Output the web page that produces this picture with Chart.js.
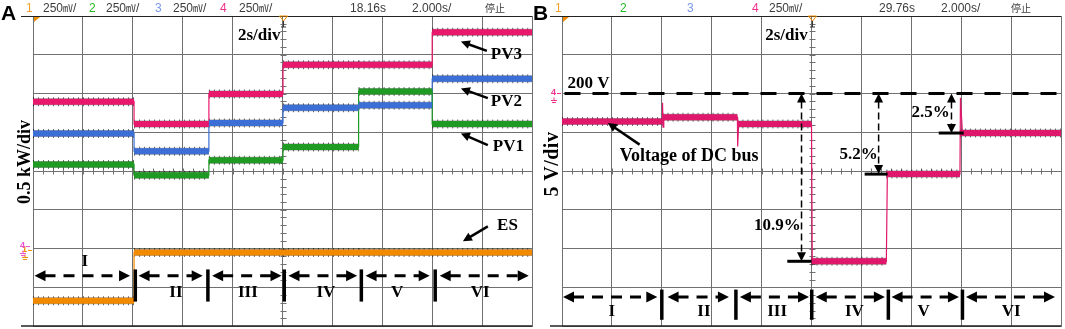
<!DOCTYPE html>
<html lang="en">
<head>
<meta charset="utf-8">
<title>PV / ES power and DC bus voltage</title>
<script src="https://cdn.jsdelivr.net/npm/chart.js@4.4.1/dist/chart.umd.min.js"></script>
<style>
  body { margin: 0; background: #fff; }
  #wrap { position: relative; width: 1065px; height: 329px; overflow: hidden; }
  canvas { position: absolute; top: 0; }
  .hd { position: absolute; top: 1px; font: 12px/14px "Liberation Sans", Arial, sans-serif; color: #3c3c3c; white-space: nowrap; }
  .cjk { font-family: "Noto Sans CJK JP", sans-serif; font-size: 10px; }
  .tag { position: absolute; top: 2px; font: bold 21px/21px "Liberation Sans", Arial, sans-serif; color: #000; }
  .ylab { position: absolute; width: 140px; height: 20px; text-align: center; font: bold 18px/20px "Liberation Serif", "Times New Roman", serif; transform: rotate(-90deg); white-space: nowrap; }
</style>
</head>
<body>
<div id="wrap">
  <canvas id="scopeA" width="540" height="329" style="left:0;width:540px;height:329px"></canvas>
  <canvas id="scopeB" width="525" height="329" style="left:540px;width:525px;height:329px"></canvas>

  <div class="tag" style="left:1px">A</div>
  <span class="hd" style="left:26px;color:#f0a030">1</span>
  <span class="hd" style="left:43px">250<span class="cjk">㎷</span>/</span>
  <span class="hd" style="left:89px;color:#22bb22">2</span>
  <span class="hd" style="left:106px">250<span class="cjk">㎷</span>/</span>
  <span class="hd" style="left:155px;color:#7897ee">3</span>
  <span class="hd" style="left:173px">250<span class="cjk">㎷</span>/</span>
  <span class="hd" style="left:220px;color:#f0308c">4</span>
  <span class="hd" style="left:239px">250<span class="cjk">㎷</span>/</span>
  <span class="hd" style="left:350px">18.16s</span>
  <span class="hd" style="left:412px">2.000s/</span>
  <span class="hd cjk" style="left:485px">停止</span>

  <div class="tag" style="left:533px">B</div>
  <span class="hd" style="left:555px;color:#f0a030">1</span>
  <span class="hd" style="left:620px;color:#22bb22">2</span>
  <span class="hd" style="left:687px;color:#7897ee">3</span>
  <span class="hd" style="left:752px;color:#f0308c">4</span>
  <span class="hd" style="left:769px">250<span class="cjk">㎷</span>/</span>
  <span class="hd" style="left:879px">29.76s</span>
  <span class="hd" style="left:941px">2.000s/</span>
  <span class="hd cjk" style="left:1011px">停止</span>

  <div class="ylab" style="left:-46px;top:152px">0.5 kW/div</div>
  <div class="ylab" style="left:481px;top:154px;font-size:20px;letter-spacing:0.5px">5 V/div</div>
</div>

<script>
// screen is 10 x 8 divisions, x in seconds (2 s/div), y in divisions from centre
const gridTimes = [0, 2, 4, 6, 8, 10, 12, 14, 16, 18, 20];
const gridDivs = [-4, -3, -2, -1, 0, 1, 2, 3, 4];

// panel A: stage boundaries and levels of each trace (0.5 kW/div)
const stageTimesA = [0, 4.05, 7.05, 10.02, 13.05, 16.0, 20];
const pv3Power = [1.79, 1.21, 1.99, 2.74, 2.74, 3.58];
const pv2Power = [0.97, 0.51, 1.24, 1.63, 1.70, 2.38];
const pv1Power = [0.17, -0.11, 0.28, 0.62, 2.05, 1.21];
const esPower  = [-3.35, -2.10, -2.10, -2.10, -2.10, -2.10];

// panel B: DC bus voltage (5 V/div), 200 V reference at +2 div
const stageTimesB = [0, 4.03, 7.03, 10.0, 13.0, 15.95, 20];
const busVoltage = [1.28, 1.39, 1.21, -2.33, -0.08, 0.98];
const busTraceT = [0, 4.03, 4.03, 4.05, 4.08, 7.03, 7.03, 7.05, 7.08, 10.0, 10.03, 13.0, 13.04, 15.95, 15.97, 16.05, 20];
const busTraceV = [1.28, 1.28, 1.76, 1.13, 1.39, 1.39, 1.36, 0.63, 1.21, 1.21, -2.33, -2.33, -0.08, -0.08, 1.89, 0.98, 0.98];
const busRef = 2.0;

const stageNames = ['I', 'II', 'III', 'IV', 'V', 'VI'];

const colPV3 = '#e8196c', colPV2 = '#3b6fd6', colPV1 = '#1f9b24', colES = '#f28a00', colBus = '#e0186c';
const gridCol = '#707070';
const serif = '"Liberation Serif", "Times New Roman", serif';

// horizontal pieces of a stepped trace, broken at each stage change
function segments(times, levels) {
  const out = [];
  for (let i = 0; i < levels.length; i++) {
    out.push({ x: times[i], y: levels[i] }, { x: times[i + 1], y: levels[i] }, { x: times[i + 1], y: null });
  }
  return out;
}
function stepped(times, levels) {
  return times.map((t, i) => ({ x: t, y: levels[Math.min(i, levels.length - 1)] }));
}

function traceSets(times, levels, color, width) {
  return [
    { data: segments(times, levels), borderColor: 'rgba(0,0,0,0.55)', borderWidth: width + 3, borderDash: [1, 4], order: 4 },
    { data: segments(times, levels), borderColor: 'rgba(0,0,0,0.35)', borderWidth: width + 1, order: 3 },
    { data: segments(times, levels), borderColor: color, borderWidth: width, order: 1 },
    { data: stepped(times, levels), borderColor: color, borderWidth: 1.2, stepped: 'before', order: 2 }
  ];
}

// drawing helpers
function head(ctx, x, y, a, hl, hw) {
  const c = Math.cos(a), s = Math.sin(a);
  ctx.beginPath();
  ctx.moveTo(x, y);
  ctx.lineTo(x - hl * c + hw * s, y - hl * s - hw * c);
  ctx.lineTo(x - hl * c - hw * s, y - hl * s + hw * c);
  ctx.closePath();
  ctx.fill();
}
function arrow(ctx, x1, y1, x2, y2, o) {
  const a = Math.atan2(y2 - y1, x2 - x1);
  const hl = o.head || 9, hw = o.headW || 4.5;
  ctx.save();
  ctx.strokeStyle = ctx.fillStyle = '#000';
  ctx.lineWidth = o.width || 2;
  ctx.setLineDash(o.dash || []);
  const sx = o.both ? x1 + Math.cos(a) * (hl - 1) : x1, sy = o.both ? y1 + Math.sin(a) * (hl - 1) : y1;
  ctx.beginPath();
  ctx.moveTo(sx, sy);
  ctx.lineTo(x2 - Math.cos(a) * (hl - 1), y2 - Math.sin(a) * (hl - 1));
  ctx.stroke();
  ctx.setLineDash([]);
  head(ctx, x2, y2, a, hl, hw);
  if (o.both) head(ctx, x1, y1, a + Math.PI, hl, hw);
  ctx.restore();
}
function label(ctx, text, x, y, align, size) {
  ctx.save();
  ctx.font = 'bold ' + (size || 17) + 'px ' + serif;
  ctx.fillStyle = '#000';
  ctx.textAlign = align || 'left';
  ctx.textBaseline = 'middle';
  ctx.fillText(text, x, y);
  ctx.restore();
}
function line(ctx, x1, y1, x2, y2, w) {
  ctx.save();
  ctx.strokeStyle = '#000';
  ctx.lineWidth = w;
  ctx.beginPath(); ctx.moveTo(x1, y1); ctx.lineTo(x2, y2); ctx.stroke();
  ctx.restore();
}

function drawStages(ctx, X, Y, st) {
  st.spans.forEach(s => arrow(ctx, X(s[0]), Y(st.v), X(s[1]), Y(st.v), { both: true, width: 3, dash: [11, 8], head: 11, headW: 5.5 }));
  st.bars.forEach(t => line(ctx, X(t), Y(st.barTop), X(t), Y(st.barBot), 3.5));
  stageNames.forEach((n, i) => label(ctx, n, X(st.labels[i][0]), Y(st.labels[i][1]), 'center'));
}

// scope frame, centre-line ticks and small markers
function decor(drawExtra) {
  return {
    id: 'decor',
    beforeDatasetsDraw(chart) {
      const { ctx, chartArea: a, scales: { x, y } } = chart;
      const cx = Math.round(x.getPixelForValue(10)) + 0.5, cy = Math.round(y.getPixelForValue(0)) + 0.5;
      ctx.save();
      ctx.strokeStyle = gridCol;
      ctx.lineWidth = 1;
      ctx.beginPath();
      for (let k = 0; k <= 50; k++) {
        const px = Math.round(x.getPixelForValue(k * 0.4)) + 0.5;
        ctx.moveTo(px, cy - 3); ctx.lineTo(px, cy + 3);
      }
      for (let k = 0; k <= 40; k++) {
        const py = Math.round(y.getPixelForValue(-4 + k * 0.2)) + 0.5;
        ctx.moveTo(cx - 3, py); ctx.lineTo(cx + 3, py);
      }
      ctx.stroke();
      ctx.strokeStyle = '#222';
      ctx.beginPath(); ctx.moveTo(a.left - 12, a.top + 0.5); ctx.lineTo(a.right, a.top + 0.5); ctx.stroke();
      ctx.lineWidth = 1.5;
      ctx.beginPath(); ctx.moveTo(a.left - 12, a.bottom); ctx.lineTo(a.right, a.bottom); ctx.stroke();
      // trigger point marker
      ctx.fillStyle = '#f08c00';
      ctx.beginPath(); ctx.moveTo(a.left + 1, a.top + 1); ctx.lineTo(a.left + 7, a.top + 1); ctx.lineTo(a.left + 1, a.top + 6); ctx.fill();
      ctx.strokeStyle = '#f08c00';
      ctx.lineWidth = 1;
      ctx.beginPath(); ctx.moveTo(cx - 4, a.top); ctx.lineTo(cx + 4, a.top); ctx.lineTo(cx, a.top + 5); ctx.closePath(); ctx.stroke();
      ctx.strokeStyle = '#333';
      ctx.beginPath(); ctx.moveTo(cx, a.top + 5); ctx.lineTo(cx, a.top + 11); ctx.moveTo(cx - 2.5, a.top + 11); ctx.lineTo(cx + 2.5, a.top + 11); ctx.stroke();
      ctx.restore();
    },
    afterDatasetsDraw(chart) {
      const { ctx, scales: { x, y } } = chart;
      drawExtra(ctx, t => x.getPixelForValue(t), v => y.getPixelForValue(v), chart.chartArea);
    }
  };
}

function groundMark(ctx, x, y, color, digit) {
  ctx.save();
  ctx.font = 'bold 9px "Liberation Sans", Arial, sans-serif';
  ctx.fillStyle = color;
  ctx.textBaseline = 'middle';
  ctx.fillText(digit, x - 10, y - 1);
  ctx.strokeStyle = color;
  ctx.lineWidth = 1;
  ctx.beginPath();
  ctx.moveTo(x - 4, y); ctx.lineTo(x, y);
  ctx.moveTo(x - 7, y + 4); ctx.lineTo(x - 7, y + 7);
  ctx.moveTo(x - 10, y + 7); ctx.lineTo(x - 4, y + 7);
  ctx.moveTo(x - 9, y + 9); ctx.lineTo(x - 5, y + 9);
  ctx.stroke();
  ctx.restore();
}

function drawA(ctx, X, Y, a) {
  groundMark(ctx, a.left - 1, Y(-2.05), '#f08c00', '1');
  groundMark(ctx, a.left - 3, Y(-1.95), '#e94fd0', '4');
  label(ctx, '2s/div', X(9.92), Y(3.49), 'right');
  label(ctx, 'PV3', X(18.35), Y(3.0));
  label(ctx, 'PV2', X(18.35), Y(1.79));
  label(ctx, 'PV1', X(18.43), Y(0.62));
  label(ctx, 'ES', X(18.6), Y(-1.41));
  arrow(ctx, X(18.19), Y(3.10), X(17.15), Y(3.34), { width: 2.5 });
  arrow(ctx, X(18.23), Y(1.88), X(17.15), Y(2.13), { width: 2.5 });
  arrow(ctx, X(18.23), Y(0.67), X(17.15), Y(0.97), { width: 2.5 });
  arrow(ctx, X(18.23), Y(-1.43), X(17.23), Y(-1.81), { width: 2.5 });
  drawStages(ctx, X, Y, {
    v: -2.70,
    spans: [[0.06, 3.89], [4.23, 6.8], [7.18, 9.96], [10.24, 12.99], [13.33, 15.9], [16.3, 19.87]],
    bars: [4.1, 7.01, 10.07, 13.16, 16.12], barTop: -2.54, barBot: -3.37,
    labels: [[2.08, -2.33], [5.73, -3.15], [8.61, -3.15], [11.74, -3.15], [14.59, -3.15], [17.92, -3.15]]
  });
}

function drawB(ctx, X, Y, a) {
  groundMark(ctx, a.left - 1, Y(busRef), '#f0308c', '4');
  // 200 V reference
  ctx.save();
  ctx.strokeStyle = '#000';
  ctx.lineWidth = 3;
  ctx.setLineDash([16, 12]);
  ctx.beginPath(); ctx.moveTo(X(0.1), Y(busRef)); ctx.lineTo(a.right + 3, Y(busRef)); ctx.stroke();
  ctx.restore();
  label(ctx, '200 V', X(0.22), Y(2.25));
  label(ctx, '2s/div', X(9.85), Y(3.49), 'right');
  label(ctx, 'Voltage of DC bus', X(2.31), Y(0.38), 'left', 18);
  arrow(ctx, X(3.11), Y(0.68), X(1.84), Y(1.24), { width: 2.5 });
  // voltage drop markers
  const drops = [[9.6, -2.33, 9.03, 10.0, '10.9%', 9.57, -1.40],
                 [12.69, -0.08, 12.13, 13.05, '5.2%', 12.66, 0.42],
                 [15.61, 0.98, 15.1, 16.1, '2.5%', 15.54, 1.50]];
  drops.forEach(d => {
    arrow(ctx, X(d[0]), Y(busRef), X(d[0]), Y(d[1]), { both: true, width: 1.5, dash: [7, 4], head: 9, headW: 4.5 });
    line(ctx, X(d[2]), Y(d[1]), X(d[3]), Y(d[1]), 3);
    label(ctx, d[4], X(d[5]), Y(d[6]), 'right');
  });
  drawStages(ctx, X, Y, {
    v: -3.25,
    spans: [[0.04, 3.82], [4.23, 6.69], [7.13, 9.9], [10.17, 12.94], [13.21, 15.91], [16.19, 19.76]],
    bars: [4.0, 6.97, 10.01, 13.08, 16.05], barTop: -3.06, barBot: -3.84,
    labels: [[2.0, -3.62], [5.69, -3.62], [8.62, -3.62], [11.72, -3.62], [14.49, -3.62], [18.0, -3.62]]
  });
}

function scope(id, datasets, pad, extra) {
  const axis = (min, max, values) => ({
    type: 'linear', min: min, max: max,
    afterBuildTicks: s => { s.ticks = values.map(v => ({ value: v })); },
    ticks: { display: false },
    grid: { color: gridCol, lineWidth: 1, drawTicks: false },
    border: { display: true, color: gridCol }
  });
  return new Chart(document.getElementById(id), {
    type: 'line',
    data: { datasets: datasets },
    options: {
      responsive: false,
      devicePixelRatio: 1,
      animation: false,
      layout: { padding: pad },
      elements: { point: { radius: 0 }, line: { tension: 0, borderCapStyle: 'butt' } },
      plugins: { legend: { display: false }, tooltip: { enabled: false } },
      scales: { x: axis(0, 20, gridTimes), y: axis(-4, 4, gridDivs) }
    },
    plugins: [decor(extra)]
  });
}

scope('scopeA', [].concat(
  traceSets(stageTimesA, esPower, colES, 6),
  traceSets(stageTimesA, pv1Power, colPV1, 6),
  traceSets(stageTimesA, pv2Power, colPV2, 6),
  traceSets(stageTimesA, pv3Power, colPV3, 6)
), { left: 33, top: 16, right: 8, bottom: 3 }, drawA);

const busSets = traceSets(stageTimesB, busVoltage, colBus, 6);
busSets[3] = { data: busTraceT.map((t, i) => ({ x: t, y: busTraceV[i] })), borderColor: colBus, borderWidth: 1.2, order: 2 };
scope('scopeB', busSets, { left: 22, top: 16, right: 4, bottom: 3 }, drawB);
</script>
</body>
</html>
